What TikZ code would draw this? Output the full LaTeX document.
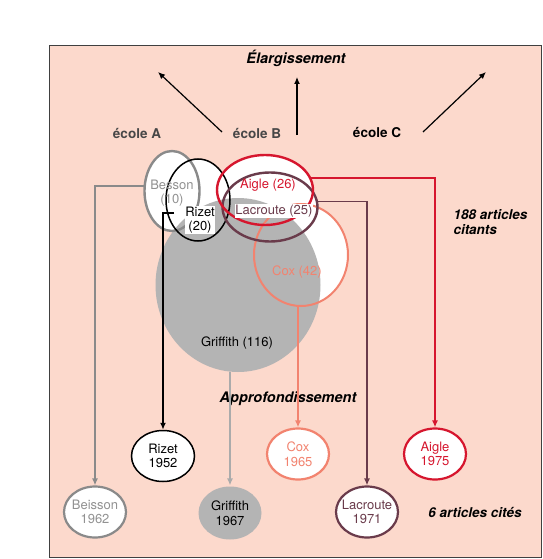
\documentclass[tikz,border=0pt]{standalone}
\usepackage{fontspec}
\setmainfont{TeX Gyre Heros}
\usetikzlibrary{shapes.geometric,arrows.meta,positioning}

\definecolor{fond}{HTML}{FCD9CC}
\definecolor{aiglerouge}{HTML}{D6162E}
\definecolor{coxsaumon}{HTML}{F2836F}
\definecolor{lacroutepourpre}{HTML}{6A3B4B}
\definecolor{bessongris}{HTML}{8A8A8A}
\definecolor{bessontexte}{HTML}{929292}
\definecolor{griffgris}{HTML}{B4B4B4}
\definecolor{griffligne}{HTML}{ABABAB}

\begin{document}
\begin{tikzpicture}[x=1pt,y=-1pt,>={Latex[length=7pt,width=6pt]},
    ell/.style={ellipse,inner sep=0pt},
    zoneBesson/.style={ell,minimum width=55,minimum height=80},
    zoneRizet/.style={ell,minimum width=64,minimum height=82},
    zoneAigle/.style={ell,minimum width=96,minimum height=70},
    zoneLacroute/.style={ell,minimum width=95,minimum height=69},
    zoneCox/.style={ell,minimum width=94,minimum height=102},
    lien/.style={->,line width=1.4pt},
    txt/.style={font=\fontsize{13}{14.5}\selectfont,align=center,inner sep=0.5pt},
    cite/.style={ellipse,draw,line width=2.2pt,fill=white,minimum width=62,minimum height=51,
                 inner xsep=-4pt,inner ysep=0pt,align=center,font=\fontsize{13}{14.5}\selectfont},
    titre/.style={font=\fontsize{14.5}{16}\selectfont\bfseries\itshape},
    note/.style={font=\fontsize{13.5}{14.5}\selectfont\bfseries\itshape},
    ecole/.style={font=\fontsize{13.5}{15}\selectfont\bfseries}]

    \useasboundingbox (0,0) rectangle (542,559);

    % Frame
    \filldraw[fill=fond,draw=black!75,line width=0.9pt] (49,45) rectangle (541,557);

    % Top: schools and widening
    \node[titre] (elarg) at (296,58) {Élargissement};
    \node[ecole,text=black!72] (ecoleA) at (137,133) {école A};
    \node[ecole,text=black!72] (ecoleB) at (257,133) {école B};
    \node[ecole] (ecoleC) at (377,133) {école C};
    \coordinate (dA) at (222,132); \coordinate (fA) at (158,72);
    \coordinate (dB) at (297,135); \coordinate (fB) at (297,77);
    \coordinate (dC) at (423,132); \coordinate (fC) at (486,72);
    \draw[lien,line width=1.2pt] (dA) -- (fA);
    \draw[lien,line width=1.2pt] (dB) -- (fB);
    \draw[lien,line width=1.2pt] (dC) -- (fC);

    % Citing articles: white insides
    \node[zoneBesson,fill=white] (besson) at (172,191) {};
    \node[zoneRizet,fill=white] (rizet) at (198,200) {};
    \node[zoneAigle,fill=white] (aigle) at (265,190) {};
    \node[zoneLacroute,fill=white] (lacroute) at (270,207) {};
    \node[zoneCox,fill=white] (cox) at (301,255) {};

    % Griffith
    \node[ell,fill=griffgris,minimum width=165,minimum height=174] (griffith) at (238,285) {};

    % Outlines
    \node[zoneBesson,draw=bessongris,line width=2.4pt] at (besson) {};
    \node[zoneRizet,draw=black,line width=1.5pt] at (rizet) {};
    \node[zoneCox,draw=coxsaumon,line width=2pt] at (cox) {};
    \node[zoneLacroute,draw=lacroutepourpre,line width=2.4pt] at (lacroute) {};
    \node[zoneAigle,draw=aiglerouge,line width=2.4pt] at (aigle) {};

    % Counts
    \node[txt,text=bessontexte] (tBesson) at (172,193) {Besson\\(10)};
    \node[txt,fill=white] (tRizet) at (200,220) {Rizet\\(20)};
    \node[txt,text=aiglerouge] (tAigle) at (268,185) {Aigle (26)};
    \node[txt,fill=white,text=lacroutepourpre] (tLacroute) at (274,211) {Lacroute (25)};
    \node[txt,text=coxsaumon] (tCox) at (297,272) {Cox (42)};
    \node[txt] (tGriffith) at (237,343) {Griffith (116)};

    \node[note,anchor=west,align=left] (citants) at (450,222) {188 articles\\citants};
    \node[titre] (approf) at (288,399) {Approfondissement};

    % Cited articles
    \node[cite,line width=1.5pt,minimum width=63] (rizet52) at (163,456) {Rizet\\1952};
    \node[cite,draw=coxsaumon,text=coxsaumon] (cox65) at (298,454) {Cox\\1965};
    \node[cite,draw=aiglerouge,text=aiglerouge] (aigle75) at (435,454) {Aigle\\1975};
    \node[cite,draw=bessongris,text=bessontexte] (beisson62) at (95,512) {Beisson\\1962};
    \node[cite,draw=none,fill=griffgris,minimum width=63,minimum height=53] (griffith67) at (230,513) {Griffith\\1967};
    \node[cite,draw=lacroutepourpre,text=lacroutepourpre] (lacroute71) at (367,512) {Lacroute\\1971};
    \node[note] (cites) at (475,512) {6 articles cités};

    % Deepening links
    \coordinate (dRizet) at (174,213);
    \draw[lien,bessongris] (besson.170) -| (beisson62.north);
    \draw[lien,black] (dRizet) -| (rizet52.north);
    \draw[lien,griffligne] (griffith.south -| griffith67) -- (griffith67.north);
    \draw[lien,coxsaumon] (cox.south -| cox65) -- (cox65.north);
    \draw[lien,lacroutepourpre] (lacroute.7) -| (lacroute71.north);
    \draw[lien,aiglerouge] (aigle.15) -| (aigle75.north);
\end{tikzpicture}
\end{document}
